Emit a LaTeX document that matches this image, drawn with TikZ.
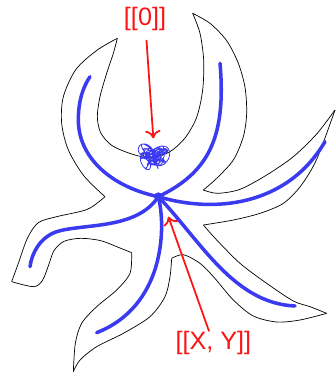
\documentclass[tikz,border=0pt]{standalone}
\usepackage{fontspec}
\setmainfont{Liberation Sans}
\usetikzlibrary{arrows.meta}
\definecolor{armblue}{RGB}{58,58,240}
\definecolor{tagred}{RGB}{250,20,20}
\tikzset{
  outline/.style={black, line width=0.6pt},
  path/.style={armblue, line width=3pt, line cap=round},
  tag/.style={tagred, inner sep=0pt, font=\fontsize{21.5}{21.5}\selectfont},
  pointer/.style={tagred, line width=1.5pt, -{Computer Modern Rightarrow[width=4.6mm,length=2.4mm]}}
}
\begin{document}
\begin{tikzpicture}[x=0.01cm, y=-0.01cm]
                    \useasboundingbox (0,0) rectangle (1005,1134);
                    % Outline of the region
                    \draw[outline] plot[smooth] coordinates {(352,115) (292,150) (228,208) (190,290) (185,370) (205,450) (252,528) (315,590)};
                    \draw[outline] plot[smooth] coordinates {(315,590) (262,628) (170,650) (115,668) (82,715) (55,790) (35,845)};
                    \draw[outline] plot[smooth] coordinates {(35,845) (100,860) (127,842) (146,795) (162,752) (192,724) (242,715) (302,722) (360,744) (395,758)};
                    \draw[outline] plot[smooth] coordinates {(395,758) (390,820) (350,870) (290,920) (245,970) (226,1030) (220,1115)};
                    \draw[outline] plot[smooth] coordinates {(220,1115) (240,1080) (290,1040) (370,1000) (450,950) (495,890) (510,830) (515,775)};
                    \draw[outline] plot[smooth] coordinates {(515,775) (550,764) (600,790) (642,832) (700,900) (760,948) (830,966) (900,960) (980,940)};
                    \draw[outline] plot[smooth] coordinates {(980,940) (930,920) (880,903) (800,850) (720,790) (652,722) (610,675)};
                    \draw[outline] plot[smooth] coordinates {(610,675) (700,660) (780,640) (850,610) (902,558) (950,478) (1005,330)};
                    \draw[outline] plot[smooth] coordinates {(1005,330) (950,402) (880,470) (800,525) (720,568) (652,580) (610,570)};
                    \draw[outline] plot[smooth] coordinates {(610,570) (650,535) (700,480) (730,410) (740,340) (735,262) (715,190) (680,122) (630,70) (578,40)};
                    \draw[outline] plot[smooth] coordinates {(578,40) (600,100) (611,180) (608,270) (590,352) (555,414) (510,455) (455,474) (395,462) (335,436) (302,398) (292,350) (300,290) (320,220) (340,160) (352,115)};
                    % Centre point and the six arms
                    \node[circle, fill=armblue, inner sep=0pt, minimum size=0.26cm] (centre) at (475,590) {};
                    \draw[path] (centre.center) .. controls (330,560) and (235,470) .. (235,360) .. controls (235,300) and (250,260) .. (270,230);
                    \draw[path] (centre.center) .. controls (620,520) and (680,420) .. (660,190);
                    \draw[path] (centre.center) .. controls (640,640) and (860,620) .. (975,425);
                    \draw[path] (centre.center) .. controls (600,720) and (700,910) .. (885,918);
                    \draw[path] (centre.center) .. controls (500,690) and (490,920) .. (290,998);
                    \draw[path] (centre.center) .. controls (410,690) and (250,670) .. (170,695) .. controls (120,712) and (95,760) .. (90,800);
                    % Tangle near the bottom of the cup
                    \draw[armblue, line width=0.7pt] plot[domain=0:720, samples=900, smooth]
                      ({462+24*cos(5*\x)+16*cos(11*\x+40)+8*cos(1.5*\x)}, {470+20*sin(6*\x)+12*sin(13*\x+20)+7*sin(2.5*\x)});
                    % Labels and pointers
                    \node[tag] (zeroLabel) at (435,58) {[[0]]};
                    \node[tag] (xyLabel) at (640,1030) {[[X, Y]]};
                    \coordinate (loopTop) at (460,415);
                    \coordinate (xyTip) at (505,650);
                    \draw[pointer, shorten <=2.6mm] (zeroLabel) -- (loopTop);
                    \draw[pointer] (xyLabel) -- (xyTip);
                \end{tikzpicture}
\end{document}
